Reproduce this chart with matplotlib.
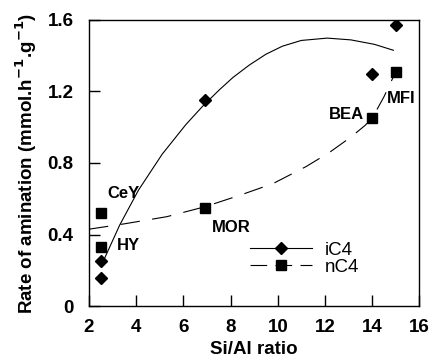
import numpy as np
import matplotlib
matplotlib.use("Agg")
import matplotlib.pyplot as plt

plt.rcParams['font.family'] = ['Liberation Sans', 'DejaVu Sans']
plt.rcParams['lines.scale_dashes'] = False

# measured points
si_al_i = [2.5, 2.5, 6.9, 14.0, 15.0]
rate_i = [0.16, 0.25, 1.15, 1.30, 1.57]

si_al_n = [2.5, 2.5, 6.9, 14.0, 15.0]
rate_n = [0.33, 0.52, 0.55, 1.05, 1.31]

# trend curves
fit_x_i = [2.6, 3.3, 4.1, 5.1, 6.1, 6.8, 7.5, 8.1, 8.8, 9.5, 10.2, 11.0, 12.1, 13.1, 14.1, 14.9]
fit_y_i = [0.25, 0.453, 0.649, 0.849, 1.014, 1.115, 1.206, 1.278, 1.348, 1.408, 1.453, 1.485, 1.498, 1.488, 1.463, 1.43]

fit_x_n = [2.0, 3.5, 5.3, 6.9, 8.4, 9.8, 11.2, 12.2, 13.1, 13.7, 14.0, 14.5, 15.0]
fit_y_n = [0.43, 0.46, 0.50, 0.555, 0.62, 0.685, 0.78, 0.86, 0.945, 1.01, 1.05, 1.17, 1.31]

labels = ['CeY', 'HY', 'MOR', 'BEA', 'MFI']
label_x = [2.76, 3.19, 7.2, 12.18, 14.63]
label_y = [0.63, 0.34, 0.44, 1.07, 1.16]

xticks = [2, 4, 6, 8, 10, 12, 14, 16]
yticks = [0, 0.4, 0.8, 1.2, 1.6]
yticklabels = ['0', '0.4', '0.8', '1.2', '1.6']

fig = plt.figure(figsize=(4.29, 3.61), dpi=100)
ax = fig.add_axes([0.2075, 0.152, 0.77, 0.793])

ax.plot(fit_x_i, fit_y_i, color='black', lw=0.8)
ax.plot(fit_x_n, fit_y_n, color='black', lw=0.8, linestyle=(0, (14, 9)))
ax.plot(si_al_i, rate_i, 'D', color='black', ms=5.8)
ax.plot(si_al_n, rate_n, 's', color='black', ms=7.5)

# legend handles (line + marker)
h1, = ax.plot([], [], color='black', lw=0.8, marker='D', ms=5.8)
h2, = ax.plot([], [], color='black', lw=0.8, marker='s', ms=7.5, linestyle=(0, (12, 6)))
ax.legend([h1, h2], ['iC4', 'nC4'], loc='center left', bbox_to_anchor=(0.488, 0.165),
          frameon=False, borderpad=0, borderaxespad=0, handlelength=3.3,
          handletextpad=0.7, labelspacing=0.0, fontsize=13.5, numpoints=1)

for t, x, y in zip(labels, label_x, label_y):
    ax.text(x, y, t, fontsize=12, fontweight='bold', va='center', ha='left')

ax.set_xlim(2, 16)
ax.set_ylim(0, 1.6)
ax.set_xticks(xticks)
ax.set_yticks(yticks)
ax.set_yticklabels(yticklabels)
ax.tick_params(direction='in', length=8, width=1, top=False, right=False, labelsize=13.5)
ax.tick_params(axis='x', pad=9)
ax.tick_params(axis='y', pad=11)
for lab in ax.get_xticklabels() + ax.get_yticklabels():
    lab.set_fontweight('bold')
for s in ax.spines.values():
    s.set_linewidth(1.0)

ax.set_xlabel('Si/Al ratio', fontsize=13.5, fontweight='bold', labelpad=4)
ax.set_ylabel('Rate of amination (mmol.h$^{\\mathbf{-1}}$.g$^{\\mathbf{-1}}$)',
              fontsize=13.5, fontweight='bold', labelpad=6)

fig.savefig('out.png', dpi=100)
